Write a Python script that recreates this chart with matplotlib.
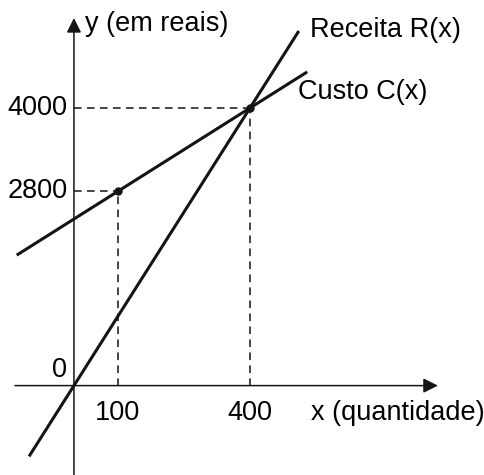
import numpy as np
import matplotlib.pyplot as plt

plt.rcParams['font.family'] = ['Liberation Sans', 'DejaVu Sans']

# dados do grafico
x_ticks = [100, 400]
y_ticks = [2800, 4000]
pontos_x = [100, 400]          # pontos marcados
pontos_y = [2800, 4000]
receita_x = [-102, 511]        # trecho desenhado da receita
custo_x = [-130, 530]          # trecho desenhado do custo

# R(x) = 10x ; C(x) passa por (100, 2800) e (400, 4000)
a_custo = (pontos_y[1] - pontos_y[0]) / (pontos_x[1] - pontos_x[0])
b_custo = pontos_y[0] - a_custo * pontos_x[0]
a_receita = pontos_y[1] / pontos_x[1]

fig = plt.figure(figsize=(4.85, 4.75), dpi=100)
ax = fig.add_axes([0, 0, 1, 1])
ax.set_xlim(-168, 934)
ax.set_ylim(-1288, 5556)
ax.axis('off')

fs = 19.5
cor = '#141414'

# eixos com setas
ax.annotate('', xy=(827, 0), xytext=(-134, 0),
            arrowprops=dict(arrowstyle='-|>', lw=1.1, color=cor,
                            mutation_scale=22, shrinkA=0, shrinkB=0))
ax.annotate('', xy=(0, 5297), xytext=(0, -1288),
            arrowprops=dict(arrowstyle='-|>', lw=1.1, color=cor,
                            mutation_scale=22, shrinkA=0, shrinkB=0))

# linhas tracejadas
for px, py in zip(pontos_x, pontos_y):
    ax.plot([0, px], [py, py], ls=(0, (5, 3.5)), lw=1.1, color=cor)
    ax.plot([px, px], [0, py], ls=(0, (5, 3.5)), lw=1.1, color=cor)

# retas
xr = np.array(receita_x)
xc = np.array(custo_x)
ax.plot(xr, a_receita * xr, color=cor, lw=2.2, solid_capstyle='butt')
ax.plot(xc, a_custo * xc + b_custo, color=cor, lw=2.2, solid_capstyle='butt')
ax.plot(pontos_x, pontos_y, 'o', color=cor, ms=5)

# rotulos dos eixos
for t in x_ticks:
    ax.text(t, -395, str(t), ha='center', va='center', fontsize=fs)
for t in y_ticks:
    ax.text(-14, t, str(t), ha='right', va='center', fontsize=fs)
ax.text(-16, 225, '0', ha='right', va='center', fontsize=fs)

ax.text(25, 5210, 'y (em reais)', ha='left', va='center', fontsize=fs)
ax.text(539, -395, 'x (quantidade)', ha='left', va='center', fontsize=fs)
ax.text(536, 5124, 'Receita R(x)', ha='left', va='center', fontsize=fs)
ax.text(509, 4231, 'Custo C(x)', ha='left', va='center', fontsize=fs)

fig.savefig('out.png', dpi=100, facecolor='white')
